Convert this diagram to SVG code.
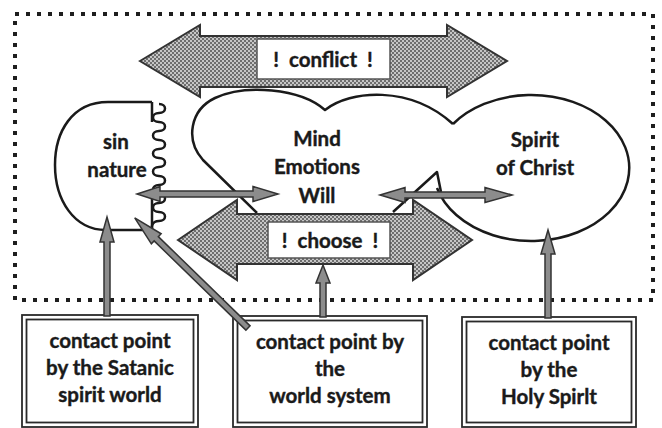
<svg xmlns="http://www.w3.org/2000/svg" width="662" height="428" viewBox="0 0 662 428">
<defs>
<pattern id="hatch" width="4" height="4" patternUnits="userSpaceOnUse"><rect width="4" height="4" fill="#c6c6c6"/><path d="M0,0h2v2h-2zM2,2h2v2h-2z" fill="#6e6e6e"/></pattern>
<style>
.border{fill:none;stroke:#1e1e1e;stroke-width:4;stroke-dasharray:4 7}
.sh{fill:none;stroke:#1a1a1a;stroke-width:2.5;stroke-linejoin:round}
.big{fill:url(#hatch);stroke:#333;stroke-width:2;stroke-linejoin:miter}
.lbl{fill:#fff;stroke:#555;stroke-width:1.5}
.con{fill:#8c8c8c;stroke:#333;stroke-width:1.5;stroke-linejoin:miter}
.box{fill:#fff;stroke:#2a2a2a;stroke-width:1.8}
.inner{fill:none;stroke:#2a2a2a;stroke-width:1.8}
text{font-family:Lato,"Liberation Sans",sans-serif;font-weight:bold;font-size:20.5px;fill:#1a1a1a;stroke:#1a1a1a;stroke-width:0.4;text-anchor:middle}
.wl{word-spacing:5px}
</style>
</defs>
<rect width="662" height="428" fill="#fff"/>
<rect class="border" x="15" y="14" width="638" height="286"/>

<g id="conflict">
<polygon class="big" points="140,61 200,25 200,36 447,36 447,25 507,61 447,97 447,87 200,87 200,97"/>
<rect class="lbl" x="257" y="39" width="133" height="40"/>
<text class="wl" x="323" y="67">! conflict !</text>
</g>

<g id="mind">
<path class="sh" d="M257,213 L203,160 C185,140 190,110 215,98 C245,84 300,88 325,110 C350,90 410,85 453,124"/>
<path class="sh" d="M393,212 L437,172 L441,192"/>
<text x="317" y="146">Mind</text>
<text x="317" y="174">Emotions</text>
<text x="317" y="203">Will</text>
</g>

<g id="sin">
<path class="sh" d="M152,102 L108,102 C72,102 55,132 55,165 C55,200 74,230 106,230 L152,230"/>
<path class="sh" d="M152,102 V122 M152,197 V230"/>
<path class="sh" d="M159,104 c8,0 8,9 0,9 c-8,0 -8,9 0,9 c8,0 8,9 0,9 c-8,0 -8,9 0,9 c8,0 8,9 0,9 c-8,0 -8,9 0,9 c8,0 8,9 0,9 c-8,0 -8,9 0,9 c8,0 8,9 0,9 c-8,0 -8,9 0,9 c8,0 8,9 0,9 c-8,0 -8,9 0,9 c8,0 8,9 0,9 c-8,0 -8,8 -6,8"/>
<text x="116" y="149">sin</text>
<text x="117" y="177">nature</text>
</g>

<g id="spirit">
<path class="sh" d="M453,124 A98,73 0 1 1 437,188"/>
<text x="535" y="147">Spirit</text>
<text x="535" y="175">of Christ</text>
</g>

<g id="choose">
<polygon class="big" points="178,240 237,200 237,214 413,214 413,200 472,240 413,280 413,264 237,264 237,280"/>
<rect class="lbl" x="268" y="222" width="122" height="36"/>
<text class="wl" x="330" y="248">! choose !</text>
</g>

<g id="box1">
<rect class="box" x="22" y="315" width="176" height="112"/>
<rect class="inner" x="26.5" y="319.5" width="167" height="103"/>
<text x="110" y="348">contact point</text>
<text x="110" y="375">by the Satanic</text>
<text x="110" y="402">spirit world</text>
</g>
<g id="box2">
<rect class="box" x="233" y="316" width="194" height="111"/>
<rect class="inner" x="237.5" y="320.5" width="185" height="102"/>
<text x="330" y="349">contact point by</text>
<text x="330" y="376">the</text>
<text x="330" y="403">world system</text>
</g>
<g id="box3">
<rect class="box" x="462" y="317" width="174" height="110"/>
<rect class="inner" x="466.5" y="321.5" width="165" height="101"/>
<text x="549" y="350">contact point</text>
<text x="549" y="377">by the</text>
<text x="549" y="404">Holy Spirlt</text>
</g>

<g id="connectors">
<polygon class="con" points="137,194 160,186.5 160,191 253,191 253,186.5 278,194 253,201.5 253,197 160,197 160,201.5"/>
<polygon class="con" points="380,195 405,187.5 405,192 485,192 485,187.5 512,195 485,202.5 485,198 405,198 405,202.5"/>
<polygon class="con" points="104,316 104,242 100,242 107,217 114,242 110,242 110,316"/>
<polygon class="con" points="320,317 320,283 316,283 323,265 330,283 326,283 326,317"/>
<polygon class="con" points="545,318 545,254 541,254 548,230 555,254 551,254 551,318"/>
<polygon class="con" transform="translate(248,328) rotate(-135.8)" points="0,-3 128,-3 128,-7 158,0 128,7 128,3 0,3"/>
</g>
</svg>
